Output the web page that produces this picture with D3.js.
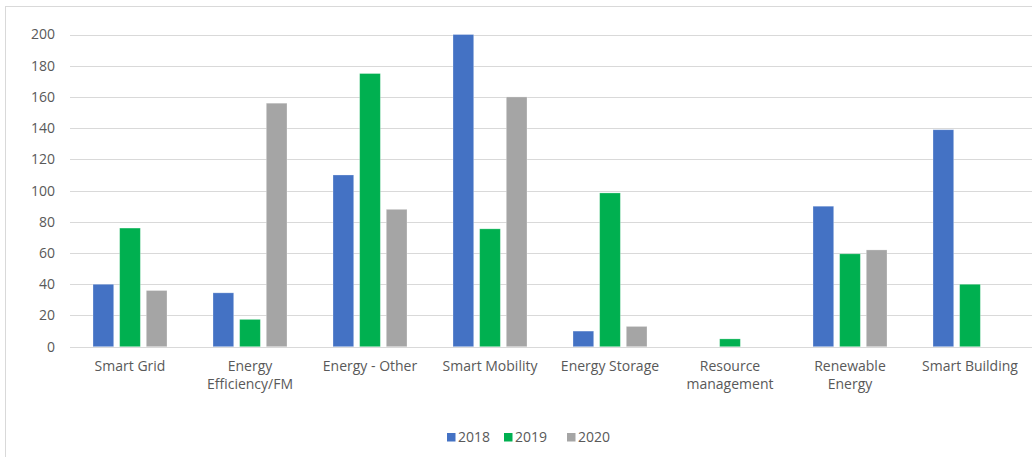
<!DOCTYPE html>
<html>
<head>
<meta charset="utf-8">
<script src="https://cdn.jsdelivr.net/npm/d3@7/dist/d3.min.js"></script>
<style>
  html, body { margin: 0; padding: 0; background: #fff; }
  svg { display: block; font-family: "Open Sans", sans-serif; }
</style>
</head>
<body>
<svg id="chart" width="1032" height="457"></svg>
<script>
// Project counts per sector and year
const categories = [
  ["Smart Grid"],
  ["Energy", "Efficiency/FM"],
  ["Energy - Other"],
  ["Smart Mobility"],
  ["Energy Storage"],
  ["Resource", "management"],
  ["Renewable", "Energy"],
  ["Smart Building"]
];
const years = ["2018", "2019", "2020"];
const values2018 = [40, 34.5, 110, 200, 10, 0, 90, 139];
const values2019 = [76, 17.5, 175, 75.5, 98.5, 5, 59.5, 40];
const values2020 = [36, 156, 88, 160, 13, 0, 62, 0];
const yTicks = [0, 20, 40, 60, 80, 100, 120, 140, 160, 180, 200];
const colors = ["#4472C4", "#00B050", "#A5A5A5"];

const series = [values2018, values2019, values2020];
const svg = d3.select("#chart");

// Chart frame
svg.append("rect")
  .attr("x", 5.5).attr("y", 6.5)
  .attr("width", 1100).attr("height", 500)
  .attr("fill", "none").attr("stroke", "#d9d9d9").attr("stroke-width", 1);

const plotLeft = 70, plotRight = 1030, plotTop = 34.5, plotBottom = 346.7;

const x0 = d3.scaleBand()
  .domain(d3.range(categories.length))
  .range([plotLeft, plotRight])
  .padding(0);

const x1 = d3.scaleBand()
  .domain(years)
  .range([23, 97])
  .paddingInner(0.223)
  .paddingOuter(0);

const y = d3.scaleLinear().domain([0, 200]).range([plotBottom, plotTop]);

// Gridlines
svg.append("g")
  .selectAll("line")
  .data(yTicks)
  .join("line")
  .attr("x1", plotLeft).attr("x2", 1032)
  .attr("y1", d => Math.round(y(d)) + 0.5)
  .attr("y2", d => Math.round(y(d)) + 0.5)
  .attr("stroke", "#d9d9d9").attr("stroke-width", 1);

// Y axis labels
const yAxis = d3.axisLeft(y).tickValues(yTicks).tickSize(0).tickPadding(0);
const yg = svg.append("g").attr("transform", "translate(55,0)").call(yAxis);
yg.select(".domain").remove();
yg.selectAll("text")
  .attr("fill", "#595959")
  .style("font-size", "14px")
  .style("font-family", "'Open Sans', sans-serif");

// Bars
const groups = svg.append("g")
  .selectAll("g")
  .data(categories.map((c, i) => i))
  .join("g")
  .attr("transform", i => `translate(${x0(i)},0)`);

groups.selectAll("rect")
  .data(i => years.map((yr, s) => ({ yr, s, v: series[s][i] })).filter(d => d.v > 0))
  .join("rect")
  .attr("x", d => x1(d.yr))
  .attr("width", x1.bandwidth())
  .attr("y", d => y(d.v))
  .attr("height", d => y(0) - y(d.v))
  .attr("fill", d => colors[d.s])
  .attr("stroke", "rgba(255,255,255,0.35)")
  .attr("stroke-width", 0.8);

// Baseline
svg.append("line")
  .attr("x1", plotLeft).attr("x2", 1032)
  .attr("y1", Math.round(y(0)) + 0.5).attr("y2", Math.round(y(0)) + 0.5)
  .attr("stroke", "#d9d9d9").attr("stroke-width", 1);

// Category labels
const labels = svg.append("g")
  .selectAll("text")
  .data(categories)
  .join("text")
  .attr("x", (c, i) => x0(i) + x0.bandwidth() / 2)
  .attr("y", 371)
  .attr("text-anchor", "middle")
  .attr("fill", "#595959")
  .style("font-size", "14px");
labels.selectAll("tspan")
  .data(c => c)
  .join("tspan")
  .attr("x", function () { return d3.select(this.parentNode).attr("x"); })
  .attr("dy", (d, j) => j === 0 ? 0 : 18)
  .text(d => d);

// Legend
const legendX = [447, 504, 567];
const legend = svg.append("g")
  .selectAll("g")
  .data(years)
  .join("g")
  .attr("transform", (d, i) => `translate(${legendX[i]},0)`);
legend.append("rect")
  .attr("x", 0).attr("y", 433)
  .attr("width", 8.5).attr("height", 8.5)
  .attr("fill", (d, i) => colors[i]);
legend.append("text")
  .attr("x", 11).attr("y", 442)
  .attr("fill", "#595959")
  .style("font-size", "14px")
  .text(d => d);
</script>
</body>
</html>
